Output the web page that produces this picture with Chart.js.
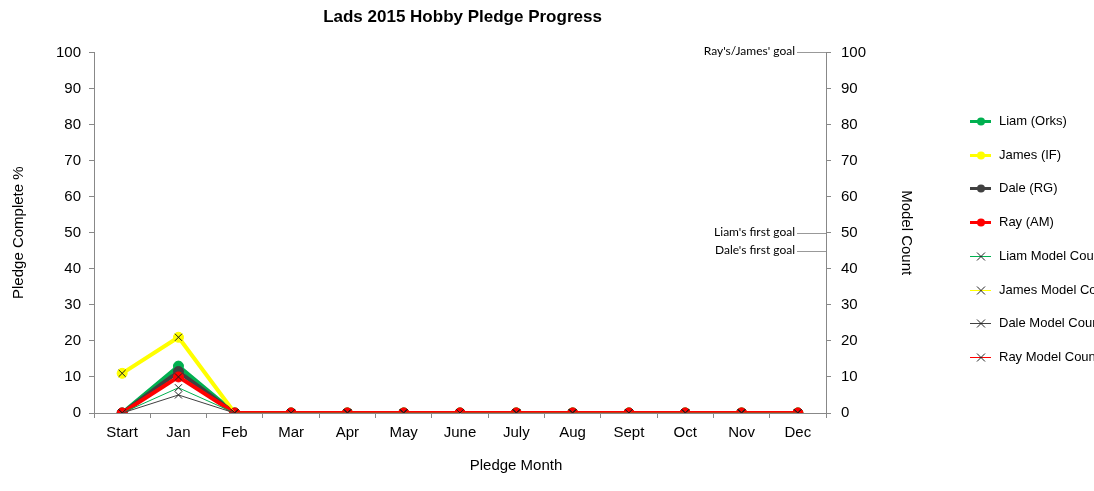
<!DOCTYPE html>
<html>
<head>
<meta charset="utf-8">
<script src="https://cdn.jsdelivr.net/npm/chart.js@4"></script>
<style>
html,body{margin:0;padding:0;background:#fff;}
#wrap{width:1094px;height:491px;}
</style>
</head>
<body>
<div id="wrap"><canvas id="c" width="1094" height="491"></canvas></div>
<script>
// data
const months=["Start","Jan","Feb","Mar","Apr","May","June","July","Aug","Sept","Oct","Nov","Dec"];
const liamPledge=[0,13,0,0,0,0,0,0,0,0,0,0,0];
const jamesPledge=[11,21,0,0,0,0,0,0,0,0,0,0,0];
const dalePledge=[0,11.5,0,0,0,0,0,0,0,0,0,0,0];
const rayPledge=[0,10,0,0,0,0,0,0,0,0,0,0,0];
const liamCount=[0,7,0,0,0,0,0,0,0,0,0,0,0];
const jamesCount=[11,21,0,0,0,0,0,0,0,0,0,0,0];
const daleCount=[0,5,0,0,0,0,0,0,0,0,0,0,0];
const rayCount=[0,10,0,0,0,0,0,0,0,0,0,0,0];
const goalLabels=["Ray's/James' goal","Liam's first goal","Dale's first goal"];
const goalValues=[100,50,45];

const GREEN="#00b050",YELLOW="#ffff00",DARK="#404040",RED="#ff0000";

function pledge(label,data,col,ord){
return {label:label,data:data,yAxisID:"y",borderColor:col,backgroundColor:col,
borderWidth:4,pointRadius:5,pointStyle:"circle",pointBorderWidth:1,order:ord};
}
function count(label,data,col,ord){
return {label:label,data:data,yAxisID:"y2",borderColor:col,backgroundColor:col,
borderWidth:1,pointRadius:5,pointStyle:"crossRot",pointBorderColor:"#202020",pointBorderWidth:1,order:ord};
}

const sets=[
pledge("Liam (Orks)",liamPledge,GREEN,8),
pledge("James (IF)",jamesPledge,YELLOW,7),
pledge("Dale (RG)",dalePledge,DARK,6),
pledge("Ray (AM)",rayPledge,RED,5),
count("Liam Model Count",liamCount,GREEN,4),
count("James Model Count",jamesCount,YELLOW,3),
count("Dale Model Count",daleCount,DARK,2),
count("Ray Model Count",rayCount,RED,1)
];
const legendCols=[GREEN,YELLOW,DARK,RED,GREEN,YELLOW,DARK,RED];

const extras={
id:"extras",
afterDraw(chart){
const ctx=chart.ctx;
const y2=chart.scales.y2;
const right=chart.chartArea.right;
ctx.save();
// x axis title sits right of centre in the original
ctx.font="15px 'Liberation Sans', Arial, sans-serif";
ctx.fillStyle="#000";
ctx.textAlign="center";
ctx.textBaseline="middle";
ctx.fillText("Pledge Month",516,466);
// goal labels
ctx.font="12px Lato, 'Open Sans', sans-serif";
ctx.textAlign="right";
goalLabels.forEach((t,i)=>{
const y=Math.round(y2.getPixelForValue(goalValues[i]))+0.5;
ctx.fillStyle="#000";
ctx.fillText(t,795,y-1);
ctx.strokeStyle="#999";
ctx.lineWidth=1;
ctx.beginPath();ctx.moveTo(797,y);ctx.lineTo(right,y);ctx.stroke();
});
// legend
ctx.font="13px 'Liberation Sans', Arial, sans-serif";
ctx.textAlign="left";
sets.forEach((d,i)=>{
const y=Math.round(121+i*33.7)+0.5;
ctx.strokeStyle=legendCols[i];
ctx.lineWidth=i<4?3:1;
ctx.beginPath();ctx.moveTo(970,y);ctx.lineTo(991,y);ctx.stroke();
if(i<4){
ctx.fillStyle=legendCols[i];
ctx.beginPath();ctx.arc(981,y,4,0,Math.PI*2);ctx.fill();
}else{
ctx.strokeStyle="#202020";
ctx.beginPath();
ctx.moveTo(977,y-4);ctx.lineTo(985,y+4);
ctx.moveTo(985,y-4);ctx.lineTo(977,y+4);
ctx.stroke();
}
ctx.fillStyle="#000";
ctx.fillText(d.label,999,y);
});
ctx.restore();
}
};

const tickFont={family:"'Liberation Sans', Arial, sans-serif",size:15};
const titleFont={family:"'Liberation Sans', Arial, sans-serif",size:15};

new Chart(document.getElementById("c"),{
type:"line",
data:{labels:months,datasets:sets},
options:{
responsive:false,
animation:false,
layout:{padding:{top:7,right:179,bottom:15,left:10}},
plugins:{
legend:{display:false},
tooltip:{enabled:false},
title:{display:true,text:"Lads 2015 Hobby Pledge Progress",color:"#000",
font:{family:"'Liberation Sans', Arial, sans-serif",size:17,weight:"bold"},
padding:{top:0,bottom:25}}
},
scales:{
x:{
offset:true,
grid:{display:true,offset:true,drawOnChartArea:false,tickLength:5,color:"#888"},
border:{color:"#888"},
ticks:{color:"#000",font:tickFont,padding:6,maxRotation:0,autoSkip:false},
// space kept for the title, which the plugin draws
title:{display:true,text:"Pledge Month",color:"rgba(0,0,0,0)",font:titleFont,padding:{top:10,bottom:0}}
},
y:{
position:"left",min:0,max:100,
afterFit(s){s.width=84;},
grid:{drawOnChartArea:false,tickLength:5,color:"#888"},
border:{color:"#888"},
ticks:{stepSize:10,color:"#000",font:tickFont,padding:8},
title:{display:true,text:"Pledge Complete %",color:"#000",font:titleFont,padding:{top:0,bottom:0}}
},
y2:{
position:"right",min:0,max:100,
afterFit(s){s.width=89;},
grid:{drawOnChartArea:false,tickLength:5,color:"#888"},
border:{color:"#888"},
ticks:{stepSize:10,color:"#000",font:tickFont,padding:10},
title:{display:true,text:"Model Count",color:"#000",font:titleFont,padding:{top:0,bottom:0}}
}
}
},
plugins:[extras]
});
</script>
</body>
</html>
